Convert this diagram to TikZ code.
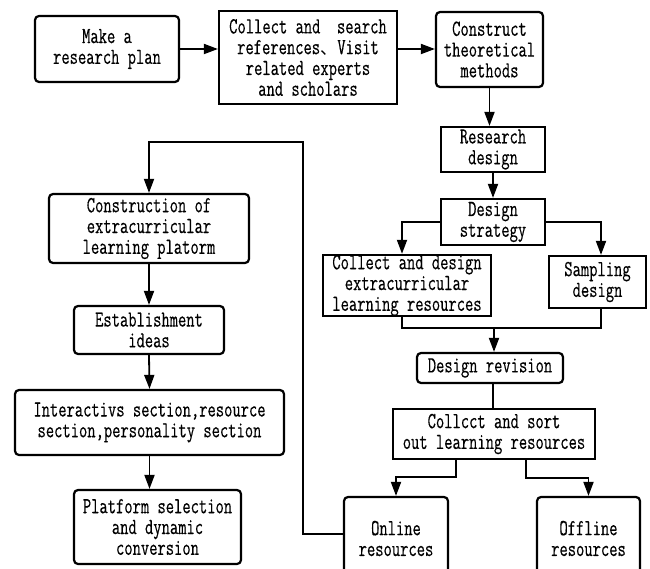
\documentclass[tikz,border=0pt]{standalone}
\usepackage{fontspec}
\setmainfont{Latin Modern Mono}[FakeStretch=0.7,FakeBold=0.35]
\newfontfamily\cjkfont{Noto Sans CJK SC}[Scale=0.75]
\usetikzlibrary{arrows.meta}
\tikzset{
  box/.style={draw, line width=2.2pt, align=center, inner sep=0pt,
    font=\fontsize{23}{20.8}\selectfont},
  rbox/.style={box, rounded corners=4pt},
  arr/.style={line width=1.8pt, -{Triangle[length=14pt,width=10pt]}},
  ln/.style={line width=1.8pt},
}
\begin{document}
\begin{tikzpicture}[x=1pt,y=-1pt]
\clip (0,0) rectangle (650,569);
\fill[white] (0,0) rectangle (650,569);
% top row
\node[rbox, minimum width=144pt, minimum height=66pt] (make) at (107,49) {Make a\\research plan};
\node[box, minimum width=178pt, minimum height=93pt] (collect) at (308,57.5) {Collect and\ \ search\\references{\cjkfont 、}Visit\\related experts\\and scholars};
\node[rbox, minimum width=107pt, minimum height=75pt] (construct) at (489.5,49.5) {Construct\\theoretical\\methods};
% right column
\node[box, minimum width=104pt, minimum height=45pt] (rdesign) at (493,149.5) {Research\\design};
\node[box, minimum width=104pt, minimum height=46pt] (strategy) at (493,222) {Design\\strategy};
\node[box, minimum width=168pt, minimum height=59pt] (cdesign) at (407,285.5) {Collect and design\\extracurricular\\learning resources};
\node[box, minimum width=97pt, minimum height=52pt] (sampling) at (597.5,282) {Sampling\\design};
\node[rbox, minimum width=146pt, minimum height=30pt] (revision) at (490,368) {Design revision};
\node[box, minimum width=202pt, minimum height=50pt] (sort) at (494,434) {Collcct and sort\\out learning resources};
\node[rbox, minimum width=104pt, minimum height=83pt] (online) at (396,538.5) {Online\\resources};
\node[rbox, minimum width=103pt, minimum height=83pt] (offline) at (588.5,538.5) {Offline\\resources};
% left column
\node[rbox, minimum width=200pt, minimum height=69pt] (construction) at (149,228.5) {Construction of\\extracurricular\\learning platorm};
\node[rbox, minimum width=150pt, minimum height=48pt] (establish) at (149,330) {Establishment\\ideas};
\node[rbox, minimum width=269pt, minimum height=65pt] (interact) at (149.5,422.5) {Interactivs section,resource\\section,personality section};
\node[rbox, minimum width=167pt, minimum height=74pt] (platform) at (157.5,527) {Platform selection\\and dynamic\\conversion};
% coordinates
\coordinate (m) at (494,328);
\coordinate (c1) at (303,142);
\coordinate (c2) at (303,534);
% connectors
\draw[arr] (make.east) -- (make.east -| collect.west);
\draw[arr] (make.east -| collect.east) -- (make.east -| construct.west);
\draw[arr] (construct.south) -- (construct.south |- rdesign.north);
\draw[arr] (rdesign.south) -- (strategy.north);
\draw[arr] (strategy.west) -| ([xshift=-5pt]cdesign.north);
\draw[arr] (strategy.east) -| ([xshift=3.5pt]sampling.north);
\draw[ln] ([xshift=-5pt]cdesign.south) |- (m);
\draw[ln] ([xshift=3.5pt]sampling.south) |- (m);
\draw[arr] (m) -- (m |- revision.north);
\draw[ln] ([xshift=3pt]revision.south) -- ([xshift=-1pt]sort.north);
\draw[arr] ([xshift=-38pt]sort.south) -- ++(0,17) -| (online.north);
\draw[arr] ([xshift=32pt]sort.south) -- ++(0,18) -| (offline.north);
\draw[arr] (c2 -| online.west) -- (c2) -- (c1) -| (construction.north);
\draw[arr] (construction.south) -- (establish.north);
\draw[arr] (establish.south) -- (interact.north);
\draw[arr] (interact.south) -- (interact.south |- platform.north);
\end{tikzpicture}
\end{document}
